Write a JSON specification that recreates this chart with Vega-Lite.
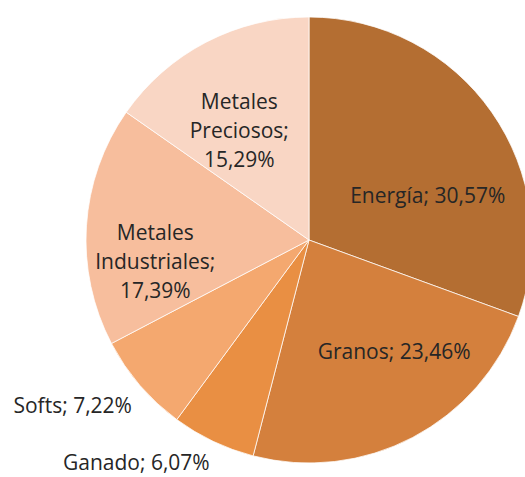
{
  "$schema": "https://vega.github.io/schema/vega-lite/v6.json",
  "autosize": "none",
  "padding": {"left": 93, "top": 17, "right": 0, "bottom": 14},
  "width": 432,
  "height": 446,
  "background": "white",
  "view": {"stroke": null},
  "data": {
    "values": [
      {"order": 1, "category": "Energía", "value": 30.57, "label": "Energía; 30,57%"},
      {"order": 2, "category": "Granos", "value": 23.46, "label": "Granos; 23,46%"},
      {"order": 3, "category": "Ganado", "value": 6.07, "label": "Ganado; 6,07%"},
      {"order": 4, "category": "Softs", "value": 7.22, "label": "Softs; 7,22%"},
      {"order": 5, "category": "Metales Industriales", "value": 17.39, "label": "Metales\nIndustriales;\n17,39%"},
      {"order": 6, "category": "Metales Preciosos", "value": 15.29, "label": "Metales\nPreciosos;\n15,29%"}
    ]
  },
  "transform": [
    {"stack": "value", "groupby": [], "sort": [{"field": "order", "order": "ascending"}], "as": ["v0", "v1"]},
    {"calculate": "(datum.v0 + datum.v1) / 2", "as": "mid"}
  ],
  "encoding": {
    "theta": {"field": "mid", "type": "quantitative", "scale": {"domain": [0, 100]}}
  },
  "layer": [
    {
      "mark": {"type": "arc", "outerRadius": 223, "stroke": "white", "strokeWidth": 0.75},
      "encoding": {
        "theta": {"field": "v0", "type": "quantitative", "scale": {"domain": [0, 100]}},
        "theta2": {"field": "v1"},
        "color": {
          "field": "category", "type": "nominal", "legend": null,
          "scale": {
            "domain": ["Energía", "Granos", "Ganado", "Softs", "Metales Industriales", "Metales Preciosos"],
            "range": ["#B46E32", "#D4803D", "#E98F43", "#F4A86F", "#F7BE9D", "#F9D6C4"]
          }
        }
      }
    },
    {
      "transform": [{"filter": "datum.category == 'Energía'"}],
      "mark": {"type": "text", "radius": 140, "dx": 4, "dy": 37, "font": "Open Sans", "fontSize": 21, "color": "#262626", "lineBreak": "\n", "lineHeight": 29, "align": "center", "baseline": "middle"},
      "encoding": {"text": {"field": "label"}}
    },
    {
      "transform": [{"filter": "datum.category == 'Granos'"}],
      "mark": {"type": "text", "radius": 140, "dx": 20, "dy": -11, "font": "Open Sans", "fontSize": 21, "color": "#262626", "lineBreak": "\n", "lineHeight": 29, "align": "center", "baseline": "middle"},
      "encoding": {"text": {"field": "label"}}
    },
    {
      "transform": [{"filter": "datum.category == 'Ganado'"}],
      "mark": {"type": "text", "radius": 260, "dx": -61, "dy": -11, "font": "Open Sans", "fontSize": 21, "color": "#262626", "lineBreak": "\n", "lineHeight": 29, "align": "center", "baseline": "middle"},
      "encoding": {"text": {"field": "label"}}
    },
    {
      "transform": [{"filter": "datum.category == 'Softs'"}],
      "mark": {"type": "text", "radius": 260, "dx": -39, "dy": -2, "font": "Open Sans", "fontSize": 21, "color": "#262626", "lineBreak": "\n", "lineHeight": 29, "align": "center", "baseline": "middle"},
      "encoding": {"text": {"field": "label"}}
    },
    {
      "transform": [{"filter": "datum.category == 'Metales Industriales'"}],
      "mark": {"type": "text", "radius": 154, "dx": 0, "dy": 4, "font": "Open Sans", "fontSize": 21, "color": "#262626", "lineBreak": "\n", "lineHeight": 29, "align": "center", "baseline": "middle"},
      "encoding": {"text": {"field": "label"}}
    },
    {
      "transform": [{"filter": "datum.category == 'Metales Preciosos'"}],
      "mark": {"type": "text", "radius": 153, "dx": 1, "dy": -1, "font": "Open Sans", "fontSize": 21, "color": "#262626", "lineBreak": "\n", "lineHeight": 29, "align": "center", "baseline": "middle"},
      "encoding": {"text": {"field": "label"}}
    }
  ]
}
